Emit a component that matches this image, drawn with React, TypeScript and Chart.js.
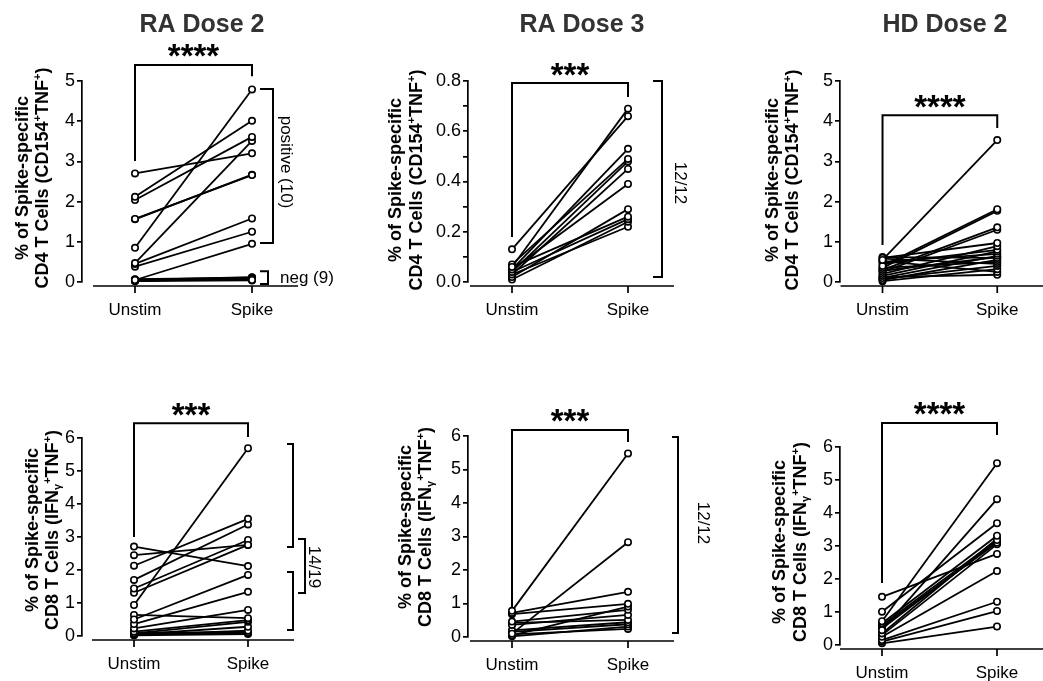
import React, { useEffect, useRef } from 'react';
import { Chart, registerables } from 'chart.js';

Chart.register(...registerables);

const FONT = '"Liberation Sans", Arial, Helvetica, sans-serif';
const PAGE_W = 1043;
const PAGE_H = 681;

const categories = ['Unstim', 'Spike'];

// RA Dose 2 – CD4 (CD154+TNF+)
const raD2Cd4Unstim = [2.70, 2.12, 2.04, 1.57, 1.56, 0.85, 0.47, 0.45, 0.38, 0.05, 0.02, 0.03, 0.04, 0.05, 0.06, 0.04, 0.03, 0.07, 0.05];
const raD2Cd4Spike = [3.20, 4.01, 3.61, 2.66, 2.67, 4.79, 3.51, 1.58, 1.25, 0.95, 0.05, 0.08, 0.10, 0.12, 0.06, 0.04, 0.09, 0.11, 0.07];

// RA Dose 3 – CD4
const raD3Cd4Unstim = [0.13, 0.06, 0.05, 0.07, 0.04, 0.03, 0.05, 0.02, 0.06, 0.04, 0.01, 0.03];
const raD3Cd4Spike = [0.66, 0.69, 0.53, 0.49, 0.48, 0.45, 0.39, 0.29, 0.26, 0.25, 0.24, 0.22];

// HD Dose 2 – CD4
const hdD2Cd4Unstim = [0.55, 0.40, 0.35, 0.30, 0.25, 0.60, 0.20, 0.45, 0.15, 0.50, 0.10, 0.62, 0.05, 0.35, 0.58, 0.28, 0.08, 0.02, 0.52, 0.12];
const hdD2Cd4Spike = [3.53, 1.81, 1.77, 1.36, 1.30, 0.97, 0.89, 0.80, 0.76, 0.70, 0.65, 0.60, 0.55, 0.50, 0.45, 0.62, 0.40, 0.32, 0.25, 0.18];

// RA Dose 2 – CD8 (IFNγ+TNF+)
const raD2Cd8Unstim = [2.71, 2.45, 2.13, 1.70, 1.44, 1.31, 0.94, 0.50, 0.36, 0.23, 0.64, 0.13, 0.08, 0.05, 0.03, 0.10, 0.06, 0.02, 0.04];
const raD2Cd8Spike = [2.12, 2.76, 3.55, 3.38, 2.91, 2.76, 5.69, 1.85, 1.34, 0.79, 0.54, 0.48, 0.43, 0.28, 0.16, 0.11, 0.08, 0.06, 0.13];

// RA Dose 3 – CD8
const raD3Cd8Unstim = [0.78, 0.10, 0.72, 0.68, 0.05, 0.46, 0.36, 0.42, 0.20, 0.15, 0.02, 0.08];
const raD3Cd8Spike = [5.48, 2.83, 1.35, 0.99, 0.91, 0.81, 0.66, 0.51, 0.44, 0.38, 0.31, 0.24];

// HD Dose 2 – CD8
const hdD2Cd8Unstim = [1.46, 1.01, 0.72, 0.45, 0.66, 0.60, 0.55, 0.50, 0.35, 0.25, 0.15, 0.10, 0.05, 0.30];
const hdD2Cd8Spike = [2.76, 3.69, 5.51, 4.42, 3.31, 3.18, 3.10, 3.14, 3.22, 2.24, 1.31, 1.03, 0.56, 3.05];

const panelTitles = ['RA Dose 2', 'RA Dose 3', 'HD Dose 2'];
const significance = ['****', '***', '****', '***', '***', '****'];

type Run = { t: string; sup?: boolean; sub?: boolean };
const cd4Title: Run[][] = [
  [{ t: '% of Spike-specific' }],
  [{ t: 'CD4 T Cells (CD154' }, { t: '+', sup: true }, { t: 'TNF' }, { t: '+', sup: true }, { t: ')' }],
];
const cd8Title: Run[][] = [
  [{ t: '% of Spike-specific' }],
  [{ t: 'CD8 T Cells (IFN' }, { t: 'γ', sub: true }, { t: '+', sup: true }, { t: 'TNF' }, { t: '+', sup: true }, { t: ')' }],
];

type Bracket = { x: number; from: number; to: number; tick: number };
type SideText = { text: string; x: number; y: number; rot: number };
type Panel = {
  title?: string; titleX?: number;
  unstim: number[]; spike: number[];
  axisLeft: number; unstimX: number; spikeX: number; zeroY: number; topY: number;
  yMax: number; yStep: number; labelEvery: number; decimals: number;
  yTitle: Run[][]; yTitleX: number[]; yTitleY: number;
  stars: string; sig: number[];
  brackets: Bracket[]; texts: SideText[];
};

const panels: Panel[] = [
  {
    title: panelTitles[0], titleX: 202, unstim: raD2Cd4Unstim, spike: raD2Cd4Spike,
    axisLeft: 82, unstimX: 135, spikeX: 252, zeroY: 282, topY: 81,
    yMax: 5, yStep: 1, labelEvery: 1, decimals: 0,
    yTitle: cd4Title, yTitleX: [22, 42], yTitleY: 178,
    stars: significance[0], sig: [5.40, 3.01, 5.12],
    brackets: [{ x: 273, from: 4.80, to: 0.97, tick: 13 }, { x: 268, from: 0.27, to: -0.05, tick: 8 }],
    texts: [{ text: 'positive (10)', x: 287, y: 162, rot: 90 }, { text: 'neg (9)', x: 280, y: 277, rot: 0 }],
  },
  {
    title: panelTitles[1], titleX: 582, unstim: raD3Cd4Unstim, spike: raD3Cd4Spike,
    axisLeft: 468, unstimX: 512, spikeX: 628, zeroY: 282, topY: 81,
    yMax: 0.8, yStep: 0.1, labelEvery: 2, decimals: 1,
    yTitle: cd4Title, yTitleX: [395, 416], yTitleY: 180,
    stars: significance[1], sig: [0.792, 0.179, 0.736],
    brackets: [{ x: 662, from: 0.8, to: 0.02, tick: 9 }],
    texts: [{ text: '12/12', x: 681, y: 183, rot: 90 }],
  },
  {
    title: panelTitles[2], titleX: 945, unstim: hdD2Cd4Unstim, spike: hdD2Cd4Spike,
    axisLeft: 840, unstimX: 883, spikeX: 999, zeroY: 282, topY: 81,
    yMax: 5, yStep: 1, labelEvery: 1, decimals: 0,
    yTitle: cd4Title, yTitleX: [772, 792], yTitleY: 180,
    stars: significance[2], sig: [4.15, 0.92, 3.83],
    brackets: [], texts: [],
  },
  {
    unstim: raD2Cd8Unstim, spike: raD2Cd8Spike,
    axisLeft: 82, unstimX: 134, spikeX: 248, zeroY: 636, topY: 438,
    yMax: 6, yStep: 1, labelEvery: 1, decimals: 0,
    yTitle: cd8Title, yTitleX: [32, 52], yTitleY: 530,
    stars: significance[3], sig: [6.45, 3.0, 6.03],
    brackets: [
      { x: 293, from: 5.82, to: 2.7, tick: 6 },
      { x: 293, from: 1.94, to: 0.18, tick: 6 },
      { x: 305, from: 2.94, to: 1.3, tick: 7 },
    ],
    texts: [{ text: '14/19', x: 315, y: 567, rot: 90 }],
  },
  {
    unstim: raD3Cd8Unstim, spike: raD3Cd8Spike,
    axisLeft: 468, unstimX: 512, spikeX: 628, zeroY: 637, topY: 436,
    yMax: 6, yStep: 1, labelEvery: 1, decimals: 0,
    yTitle: cd8Title, yTitleX: [405, 425], yTitleY: 527,
    stars: significance[4], sig: [6.18, 0.87, 5.82],
    brackets: [{ x: 678, from: 5.97, to: 0.12, tick: 6 }],
    texts: [{ text: '12/12', x: 704, y: 523, rot: 90 }],
  },
  {
    unstim: hdD2Cd8Unstim, spike: hdD2Cd8Spike,
    axisLeft: 840, unstimX: 882, spikeX: 997, zeroY: 645, topY: 447,
    yMax: 6, yStep: 1, labelEvery: 1, decimals: 0,
    yTitle: cd8Title, yTitleX: [779, 800], yTitleY: 542,
    stars: significance[5], sig: [6.73, 1.88, 6.36],
    brackets: [], texts: [],
  },
];

const Y_W = 50;
const X_MAX = 1.35;

function centeredText(ctx: CanvasRenderingContext2D, text: string, cx: number, cy: number) {
  const m = ctx.measureText(text);
  const asc = m.actualBoundingBoxAscent;
  const desc = m.actualBoundingBoxDescent;
  ctx.textAlign = 'center';
  ctx.textBaseline = 'alphabetic';
  ctx.fillText(text, cx, cy + (asc - desc) / 2);
}

function drawRuns(ctx: CanvasRenderingContext2D, runs: Run[], cx: number, cy: number, angle: number, size: number, bold: boolean) {
  const fontFor = (r: Run) => `${bold ? 'bold ' : ''}${r.sup || r.sub ? Math.round(size * 0.62) : size}px ${FONT}`;
  const widths = runs.map((r) => {
    ctx.font = fontFor(r);
    return ctx.measureText(r.t).width;
  });
  const total = widths.reduce((a, b) => a + b, 0);
  ctx.save();
  ctx.translate(cx, cy);
  ctx.rotate(angle);
  ctx.textAlign = 'left';
  ctx.textBaseline = 'alphabetic';
  let x = -total / 2;
  const base = (size * 0.716) / 2;
  runs.forEach((r, i) => {
    ctx.font = fontFor(r);
    const dy = r.sup ? -size * 0.4 : r.sub ? size * 0.12 : 0;
    ctx.fillText(r.t, x, base + dy);
    x += widths[i];
  });
  ctx.restore();
}

function annotationPlugin(p: Panel) {
  return {
    id: 'annot',
    afterDraw(chart: any) {
      const ctx: CanvasRenderingContext2D = chart.ctx;
      const xs = chart.scales.x;
      const ys = chart.scales.y;
      const x0 = xs.getPixelForValue(0);
      const x1 = xs.getPixelForValue(1);
      const y0 = ys.getPixelForValue(0);
      ctx.save();
      ctx.strokeStyle = '#000';
      ctx.fillStyle = '#000';
      ctx.lineCap = 'butt';
      ctx.lineJoin = 'miter';

      // x axis (offset below zero, Prism style)
      ctx.lineWidth = 1.7;
      const ay = y0 + 4;
      ctx.beginPath();
      ctx.moveTo(x0 - 42, ay);
      ctx.lineTo(x1 + 46, ay);
      ctx.moveTo(x0, ay);
      ctx.lineTo(x0, ay + 7);
      ctx.moveTo(x1, ay);
      ctx.lineTo(x1, ay + 7);
      ctx.stroke();

      // significance bracket
      const [vt, vl, vr] = p.sig;
      const ty = ys.getPixelForValue(vt);
      ctx.lineWidth = 2;
      ctx.beginPath();
      ctx.moveTo(x0, ys.getPixelForValue(vl));
      ctx.lineTo(x0, ty);
      ctx.lineTo(x1, ty);
      ctx.lineTo(x1, ys.getPixelForValue(vr));
      ctx.stroke();
      ctx.font = `bold 33px ${FONT}`;
      centeredText(ctx, p.stars, (x0 + x1) / 2, ty - 14);

      // side brackets
      ctx.lineWidth = 2;
      p.brackets.forEach((b) => {
        const ya = ys.getPixelForValue(b.from);
        const yb = ys.getPixelForValue(b.to);
        ctx.beginPath();
        ctx.moveTo(b.x - b.tick, ya);
        ctx.lineTo(b.x, ya);
        ctx.lineTo(b.x, yb);
        ctx.lineTo(b.x - b.tick, yb);
        ctx.stroke();
      });
      p.texts.forEach((t) => {
        if (t.rot === 0) {
          ctx.font = `17px ${FONT}`;
          ctx.textAlign = 'left';
          ctx.textBaseline = 'alphabetic';
          ctx.fillText(t.text, t.x, t.y + (17 * 0.716) / 2);
        } else {
          drawRuns(ctx, [{ t: t.text }], t.x, t.y, (t.rot * Math.PI) / 180, 17, false);
        }
      });

      // y-axis title (two lines)
      p.yTitle.forEach((runs, i) => {
        drawRuns(ctx, runs, p.yTitleX[i], p.yTitleY, -Math.PI / 2, 18, true);
      });

      // panel title
      if (p.title) {
        ctx.fillStyle = '#333';
        ctx.font = `bold 25px ${FONT}`;
        centeredText(ctx, p.title, p.titleX as number, 23);
      }
      ctx.restore();
    },
  };
}

function makeConfig(p: Panel): any {
  const unit = p.spikeX - p.unstimX;
  const xMin = (p.axisLeft - p.unstimX) / unit;
  const right = p.unstimX + X_MAX * unit;
  const xH = Math.min(48, PAGE_H - p.zeroY);
  return {
    type: 'line',
    data: {
      datasets: p.unstim.map((u, i) => ({
        data: [
          { x: 0, y: u },
          { x: 1, y: p.spike[i] },
        ],
        borderColor: '#000',
        borderWidth: 1.8,
        pointRadius: 3.2,
        pointBorderWidth: 1.6,
        pointBackgroundColor: '#fff',
        pointBorderColor: '#000',
        tension: 0,
        clip: false,
      })),
    },
    options: {
      responsive: false,
      animation: false,
      events: [],
      layout: {
        padding: {
          left: p.axisLeft - Y_W,
          right: Math.max(0, PAGE_W - right),
          top: p.topY,
          bottom: PAGE_H - p.zeroY - xH,
        },
      },
      plugins: {
        legend: { display: false },
        tooltip: { enabled: false },
        title: { display: false },
      },
      scales: {
        x: {
          type: 'linear',
          min: xMin,
          max: X_MAX,
          afterFit: (s: any) => {
            s.height = xH;
          },
          afterBuildTicks: (s: any) => {
            s.ticks = [{ value: 0 }, { value: 1 }];
          },
          grid: { display: false, drawTicks: false },
          border: { display: false },
          ticks: {
            callback: (v: number) => categories[Math.round(v)],
            padding: 18,
            font: { family: FONT, size: 17 },
            color: '#000',
            maxRotation: 0,
            autoSkip: false,
          },
        },
        y: {
          type: 'linear',
          min: 0,
          max: p.yMax,
          afterFit: (s: any) => {
            s.width = Y_W;
          },
          grid: { drawOnChartArea: false, drawTicks: true, tickLength: 5, color: '#000', lineWidth: 1.7 },
          border: { display: true, color: '#000', width: 1.7 },
          ticks: {
            stepSize: p.yStep,
            autoSkip: false,
            padding: 2,
            font: { family: FONT, size: 18 },
            color: '#000',
            callback: (v: number) => {
              const k = Math.round(v / p.yStep);
              if (k % p.labelEvery !== 0) return '';
              return Number(v).toFixed(p.decimals);
            },
          },
        },
      },
    },
    plugins: [annotationPlugin(p)],
  };
}

function PanelChart({ p }: { p: Panel }) {
  const ref = useRef<HTMLCanvasElement | null>(null);
  useEffect(() => {
    if (!ref.current) return;
    const chart = new Chart(ref.current, makeConfig(p));
    return () => chart.destroy();
  }, [p]);
  return (
    <canvas
      ref={ref}
      width={PAGE_W}
      height={PAGE_H}
      style={{ position: 'absolute', left: 0, top: 0, width: PAGE_W, height: PAGE_H }}
    />
  );
}

export default function App() {
  return (
    <div
      style={{
        position: 'absolute',
        left: 0,
        top: 0,
        width: PAGE_W,
        height: PAGE_H,
        background: '#fff',
        overflow: 'hidden',
      }}
    >
      {panels.map((p, i) => (
        <PanelChart key={i} p={p} />
      ))}
    </div>
  );
}
